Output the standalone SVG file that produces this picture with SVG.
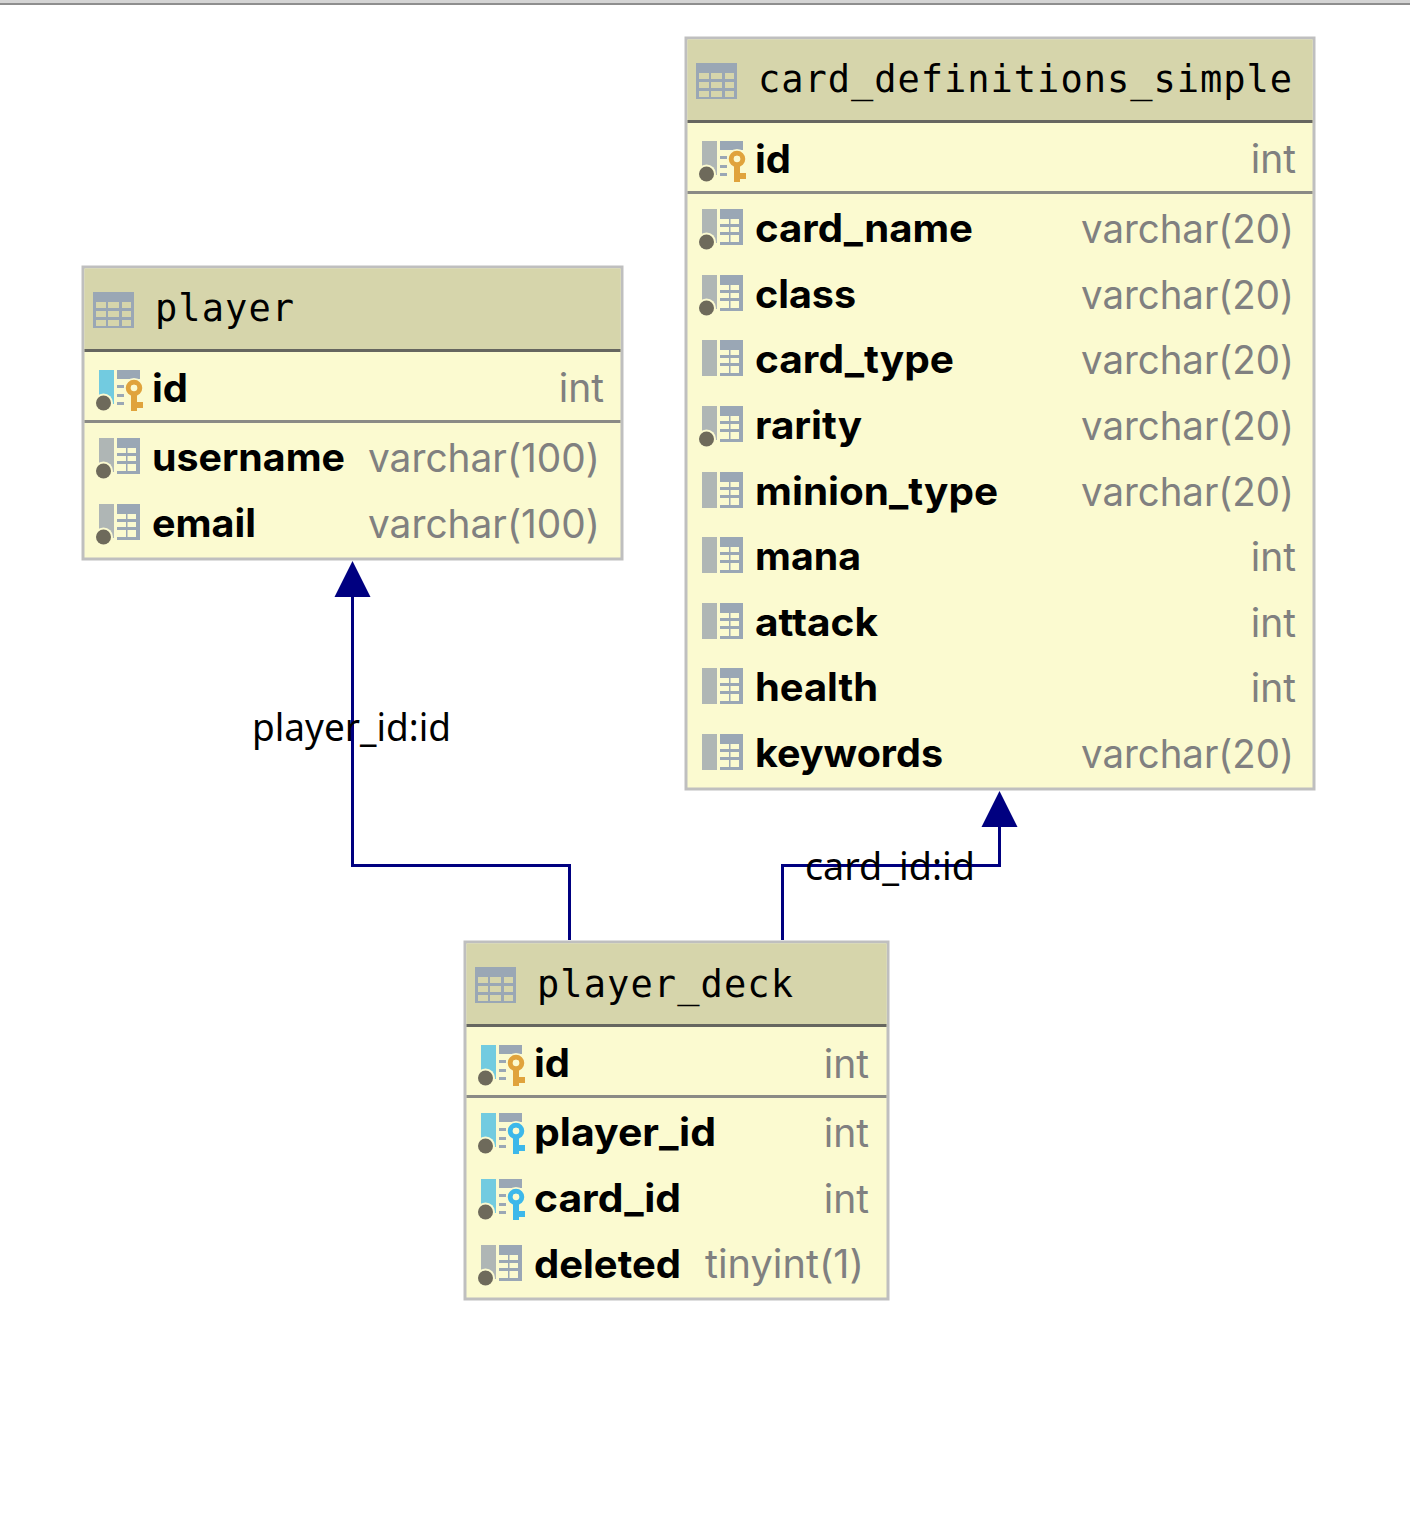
<svg xmlns="http://www.w3.org/2000/svg" xmlns:xlink="http://www.w3.org/1999/xlink" width="1410" height="1540" viewBox="0 0 1410 1540">
<style>
.box{fill:#fbfad0;stroke:#bfbfbf;stroke-width:3}
.hd{fill:#d6d5ab}
.s1{stroke:#66665f;stroke-width:3}
.s2{stroke:#8a8a85;stroke-width:3}
.t{font-family:"DejaVu Sans Mono","Liberation Mono",monospace;font-size:37px;fill:#000}
.f{font-family:Inter,"Noto Sans",sans-serif;font-weight:700;font-size:39px;fill:#000}
.y{font-family:Inter,"Noto Sans",sans-serif;font-weight:400;font-size:39px;fill:#808080}
.l{font-family:"Noto Sans","Liberation Sans",sans-serif;font-size:37.500px;fill:#000}
.c{fill:none;stroke:#000080;stroke-width:3}
</style>
<defs>
<g id="tbl"><rect x="0" y="0" width="41" height="36" fill="#9aa7b5"/><g fill="#d6d5ab"><rect x="3" y="10" width="10" height="6"/><rect x="15" y="10" width="11" height="6"/><rect x="29" y="10" width="9" height="6"/><rect x="3" y="19" width="10" height="6"/><rect x="15" y="19" width="11" height="6"/><rect x="29" y="19" width="9" height="6"/><rect x="3" y="28" width="10" height="6"/><rect x="15" y="28" width="11" height="6"/><rect x="29" y="28" width="9" height="6"/></g></g>
<g id="dot"><circle cx="4.500" cy="33" r="9.500" fill="#fbfad0"/><circle cx="4.500" cy="33" r="7.500" fill="#6e6a5b"/></g>
<g id="grid"><rect x="18" y="0" width="23" height="36" fill="#9aa7b5"/><g fill="#fbfad0"><rect x="18" y="10" width="9" height="5"/><rect x="28.500" y="10" width="8.500" height="5"/><rect x="18" y="18" width="9" height="5"/><rect x="28.500" y="18" width="8.500" height="5"/><rect x="18" y="26" width="9" height="7"/><rect x="28.500" y="26" width="8.500" height="7"/></g></g>
<g id="col"><rect x="0" y="0" width="15" height="34" fill="#afb6b5"/><use xlink:href="#dot" href="#dot"/><use xlink:href="#grid" href="#grid"/></g>
<g id="colnd"><rect x="0" y="0" width="15" height="36" fill="#afb6b5"/><use xlink:href="#grid" href="#grid"/></g>
<g id="lines"><rect x="18" y="0" width="23" height="9" fill="#9aa7b5"/><path d="M18 16.500H25M18 25.500H25M18 33.500H25" stroke="#9aa7b5" stroke-width="3"/></g>
<g id="key"><circle cx="35" cy="18" r="10" fill="#fbfad0"/><path d="M30 20H39V30H45V39H39V42H30Z" fill="#fbfad0"/><path d="M32 18H38V32H44V38H38V41H32Z" fill="currentColor"/><circle cx="35" cy="18" r="5.750" fill="none" stroke="currentColor" stroke-width="5"/><circle cx="35" cy="18" r="3.200" fill="#fbfad0"/></g>
<g id="pk"><rect x="0" y="0" width="15" height="34" fill="#72cbe0"/><use xlink:href="#dot" href="#dot"/><use xlink:href="#lines" href="#lines"/><use xlink:href="#key" href="#key" color="#e0a33c"/></g>
<g id="pkg"><rect x="0" y="0" width="15" height="34" fill="#afb6b5"/><use xlink:href="#dot" href="#dot"/><use xlink:href="#lines" href="#lines"/><use xlink:href="#key" href="#key" color="#e0a33c"/></g>
<g id="fk"><rect x="0" y="0" width="15" height="34" fill="#72cbe0"/><use xlink:href="#dot" href="#dot"/><use xlink:href="#lines" href="#lines"/><use xlink:href="#key" href="#key" color="#3db8ea"/></g>
</defs>
<rect width="1410" height="1540" fill="#fff"/>
<rect x="0" y="0" width="1410" height="3" fill="#d4d4d4"/><rect x="0" y="3" width="1410" height="2" fill="#8e8e8e"/>
<g id="connectors">
<path class="c" d="M569.500 940V865.500H352.500V595" />
<path class="c" d="M782.500 940V865.500H999.500V825"/>
<path d="M352.500 561L370.500 597H334.500Z" fill="#000080"/>
<path d="M999.500 791L1017.500 827H981.500Z" fill="#000080"/>
<text class="l" x="252" y="741" textLength="199" lengthAdjust="spacingAndGlyphs">player_id:id</text>
<text class="l" x="805" y="880" textLength="170" lengthAdjust="spacingAndGlyphs">card_id:id</text>
</g>
<g id="player">
<rect class="box" x="83" y="267" width="539" height="292"/>
<rect class="hd" x="84.500" y="268.500" width="536" height="81"/>
<path class="s1" d="M84.500 350.500H620.500"/><path class="s2" d="M84.500 421.500H620.500"/>
<use xlink:href="#tbl" href="#tbl" x="93" y="292"/>
<text class="t" x="155" y="321" textLength="139">player</text>
<use xlink:href="#pk" href="#pk" x="99" y="370"/><text class="f" x="152" y="402" textLength="36" lengthAdjust="spacingAndGlyphs">id</text><text class="y" x="604" y="402" text-anchor="end">int</text>
<use xlink:href="#col" href="#col" x="99" y="438"/><text class="f" x="152" y="471" textLength="193" lengthAdjust="spacingAndGlyphs">username</text><text class="y" x="368" y="472" textLength="232" lengthAdjust="spacingAndGlyphs">varchar(100)</text>
<use xlink:href="#col" href="#col" x="99" y="504"/><text class="f" x="152" y="537" textLength="104" lengthAdjust="spacingAndGlyphs">email</text><text class="y" x="368" y="538" textLength="232" lengthAdjust="spacingAndGlyphs">varchar(100)</text>
</g>
<g id="card_definitions_simple">
<rect class="box" x="686" y="38" width="628" height="751"/>
<rect class="hd" x="687.500" y="39.500" width="625" height="81"/>
<path class="s1" d="M687.500 121.500H1312.500"/><path class="s2" d="M687.500 192.500H1312.500"/>
<use xlink:href="#tbl" href="#tbl" x="696" y="63"/>
<text class="t" x="758" y="92" textLength="534">card_definitions_simple</text>
<use xlink:href="#pkg" href="#pkg" x="702" y="141"/><text class="f" x="755" y="173" textLength="36" lengthAdjust="spacingAndGlyphs">id</text><text class="y" x="1296" y="173" text-anchor="end">int</text>
<use xlink:href="#col" href="#col" x="702" y="209"/><text class="f" x="755" y="242" textLength="218" lengthAdjust="spacingAndGlyphs">card_name</text><text class="y" x="1081" y="243" textLength="213" lengthAdjust="spacingAndGlyphs">varchar(20)</text>
<use xlink:href="#col" href="#col" x="702" y="275"/><text class="f" x="755" y="308" textLength="101" lengthAdjust="spacingAndGlyphs">class</text><text class="y" x="1081" y="309" textLength="213" lengthAdjust="spacingAndGlyphs">varchar(20)</text>
<use xlink:href="#colnd" href="#colnd" x="702" y="340"/><text class="f" x="755" y="373" textLength="199" lengthAdjust="spacingAndGlyphs">card_type</text><text class="y" x="1081" y="374" textLength="213" lengthAdjust="spacingAndGlyphs">varchar(20)</text>
<use xlink:href="#col" href="#col" x="702" y="406"/><text class="f" x="755" y="439" textLength="107" lengthAdjust="spacingAndGlyphs">rarity</text><text class="y" x="1081" y="440" textLength="213" lengthAdjust="spacingAndGlyphs">varchar(20)</text>
<use xlink:href="#colnd" href="#colnd" x="702" y="472"/><text class="f" x="755" y="505" textLength="243" lengthAdjust="spacingAndGlyphs">minion_type</text><text class="y" x="1081" y="506" textLength="213" lengthAdjust="spacingAndGlyphs">varchar(20)</text>
<use xlink:href="#colnd" href="#colnd" x="702" y="537"/><text class="f" x="755" y="570" textLength="106" lengthAdjust="spacingAndGlyphs">mana</text><text class="y" x="1296" y="571" text-anchor="end">int</text>
<use xlink:href="#colnd" href="#colnd" x="702" y="603"/><text class="f" x="755" y="636" textLength="123" lengthAdjust="spacingAndGlyphs">attack</text><text class="y" x="1296" y="637" text-anchor="end">int</text>
<use xlink:href="#colnd" href="#colnd" x="702" y="668"/><text class="f" x="755" y="701" textLength="123" lengthAdjust="spacingAndGlyphs">health</text><text class="y" x="1296" y="702" text-anchor="end">int</text>
<use xlink:href="#colnd" href="#colnd" x="702" y="734"/><text class="f" x="755" y="767" textLength="188" lengthAdjust="spacingAndGlyphs">keywords</text><text class="y" x="1081" y="768" textLength="213" lengthAdjust="spacingAndGlyphs">varchar(20)</text>
</g>
<g id="player_deck">
<rect class="box" x="465" y="942" width="423" height="357"/>
<rect class="hd" x="466.500" y="943.500" width="420" height="81"/>
<path class="s1" d="M466.500 1025.500H886.500"/><path class="s2" d="M466.500 1096.500H886.500"/>
<use xlink:href="#tbl" href="#tbl" x="475" y="967"/>
<text class="t" x="537" y="997" textLength="256">player_deck</text>
<use xlink:href="#pk" href="#pk" x="481" y="1045"/><text class="f" x="534" y="1077" textLength="36" lengthAdjust="spacingAndGlyphs">id</text><text class="y" x="869" y="1078" text-anchor="end">int</text>
<use xlink:href="#fk" href="#fk" x="481" y="1113"/><text class="f" x="534" y="1146" textLength="182" lengthAdjust="spacingAndGlyphs">player_id</text><text class="y" x="869" y="1147" text-anchor="end">int</text>
<use xlink:href="#fk" href="#fk" x="481" y="1179"/><text class="f" x="534" y="1212" textLength="147" lengthAdjust="spacingAndGlyphs">card_id</text><text class="y" x="869" y="1213" text-anchor="end">int</text>
<use xlink:href="#col" href="#col" x="481" y="1245"/><text class="f" x="534" y="1278" textLength="147" lengthAdjust="spacingAndGlyphs">deleted</text><text class="y" x="705" y="1278" textLength="159" lengthAdjust="spacingAndGlyphs">tinyint(1)</text>
</g>
</svg>
